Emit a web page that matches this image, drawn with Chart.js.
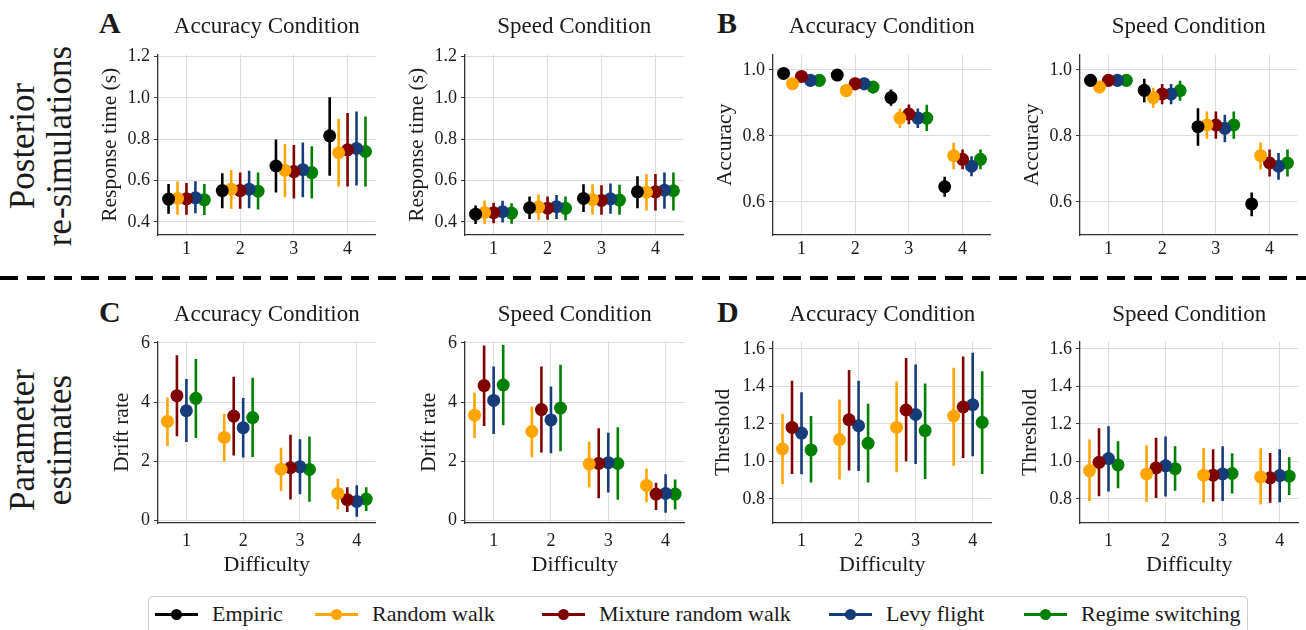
<!DOCTYPE html>
<html>
<head>
<meta charset="utf-8">
<script src="https://cdn.jsdelivr.net/npm/chart.js@4.4.0/dist/chart.umd.min.js"></script>
<style>
  body { margin: 0; width: 1306px; height: 630px; overflow: hidden; background: #fff; position: relative;
         font-family: 'Liberation Serif', serif; color: #1a1a1a; }
  canvas { position: absolute; }
  .letter { position: absolute; font-weight: bold; font-size: 30px; line-height: 30px; }
  .rowlabel { position: absolute; width: 320px; text-align: center; font-size: 35px; line-height: 37px;
              transform: translate(-50%, -50%) rotate(-90deg); }
  .dashes { position: absolute; left: 0; top: 276px; width: 1306px; height: 4px;
            background: repeating-linear-gradient(90deg, #000 0 18px, transparent 18px 27px); }
  .legend { position: absolute; left: 148px; top: 596px; width: 1100px; height: 40px;
            border: 1px solid #d0d0d0; border-radius: 4px; box-sizing: border-box; }
  .item { position: absolute; top: 0; height: 34px; display: flex; align-items: center; font-size: 22px; }
  .swatch { position: relative; width: 43px; height: 3px; margin-right: 14px; }
  .swatch span { position: absolute; left: 16px; top: -4px; width: 11px; height: 11px; border-radius: 50%; }
</style>
</head>
<body>
<div class="letter" style="left:99px;top:8px">A</div>
<div class="letter" style="left:717px;top:8px">B</div>
<div class="letter" style="left:99px;top:297px">C</div>
<div class="letter" style="left:717px;top:297px">D</div>
<div class="rowlabel" style="left:41px;top:146px">Posterior<br>re-simulations</div>
<div class="rowlabel" style="left:41px;top:440px">Parameter<br>estimates</div>
<div class="dashes"></div>
<div class="legend" id="legend"></div>
<script>
const difficulty = [1, 2, 3, 4];
const modelNames = ['Empiric', 'Random walk', 'Mixture random walk', 'Levy flight', 'Regime switching'];
const modelColors = ['#000000', '#ffa500', '#800000', '#173c7a', '#008000'];
const conditionTitles = ['Accuracy Condition', 'Speed Condition'];
const rtTicks = [0.4, 0.6, 0.8, 1.0, 1.2];
const accTicks = [0.6, 0.8, 1.0];
const driftTicks = [0, 2, 4, 6];
const thresholdTicks = [0.8, 1.0, 1.2, 1.4, 1.6];

// response time, accuracy condition (rows: empiric, random walk, mixture, levy, regime)
const rtAccMean = [[0.511, 0.552, 0.671, 0.817], [0.514, 0.559, 0.650, 0.735], [0.512, 0.552, 0.644, 0.749], [0.517, 0.559, 0.653, 0.756], [0.507, 0.549, 0.639, 0.741]];
const rtAccLow  = [[0.440, 0.467, 0.543, 0.624], [0.435, 0.464, 0.520, 0.572], [0.435, 0.464, 0.514, 0.572], [0.442, 0.467, 0.520, 0.576], [0.434, 0.461, 0.514, 0.572]];
const rtAccHigh = [[0.584, 0.636, 0.799, 1.004], [0.596, 0.652, 0.777, 0.899], [0.589, 0.640, 0.772, 0.927], [0.597, 0.648, 0.785, 0.935], [0.584, 0.639, 0.766, 0.910]];
// response time, speed condition
const rtSpdMean = [[0.438, 0.469, 0.514, 0.546], [0.446, 0.472, 0.509, 0.544], [0.445, 0.467, 0.504, 0.546], [0.450, 0.474, 0.512, 0.554], [0.443, 0.466, 0.506, 0.551]];
const rtSpdLow  = [[0.390, 0.414, 0.448, 0.467], [0.390, 0.408, 0.435, 0.455], [0.394, 0.411, 0.435, 0.456], [0.397, 0.414, 0.440, 0.464], [0.392, 0.408, 0.435, 0.456]];
const rtSpdHigh = [[0.480, 0.523, 0.583, 0.621], [0.504, 0.533, 0.583, 0.631], [0.493, 0.523, 0.578, 0.632], [0.503, 0.531, 0.586, 0.640], [0.491, 0.523, 0.580, 0.639]];
// accuracy, accuracy condition
const accAccMean = [[0.989, 0.984, 0.916, 0.646], [0.958, 0.937, 0.854, 0.740], [0.980, 0.958, 0.866, 0.729], [0.968, 0.958, 0.854, 0.708], [0.968, 0.948, 0.854, 0.729]];
const accAccLow  = [[0.983, 0.976, 0.891, 0.616], [0.939, 0.918, 0.824, 0.699], [0.971, 0.938, 0.835, 0.699], [0.949, 0.938, 0.824, 0.678], [0.949, 0.928, 0.815, 0.699]];
const accAccHigh = [[0.994, 0.992, 0.940, 0.676], [0.976, 0.956, 0.883, 0.779], [0.988, 0.976, 0.895, 0.759], [0.986, 0.976, 0.883, 0.738], [0.986, 0.966, 0.894, 0.759]];
// accuracy, speed condition
const accSpdMean = [[0.968, 0.938, 0.828, 0.594], [0.948, 0.916, 0.833, 0.740], [0.968, 0.927, 0.833, 0.718], [0.968, 0.927, 0.823, 0.708], [0.968, 0.937, 0.833, 0.718]];
const accSpdLow  = [[0.949, 0.902, 0.770, 0.557], [0.928, 0.885, 0.791, 0.698], [0.949, 0.896, 0.791, 0.677], [0.949, 0.896, 0.781, 0.667], [0.949, 0.906, 0.791, 0.677]];
const accSpdHigh = [[0.987, 0.973, 0.884, 0.629], [0.966, 0.946, 0.874, 0.780], [0.987, 0.957, 0.874, 0.759], [0.987, 0.957, 0.864, 0.748], [0.987, 0.967, 0.874, 0.759]];
// drift rate (rows: random walk, mixture, levy, regime)
const driftAccMean = [[3.35, 2.81, 1.74, 0.92], [4.22, 3.53, 1.79, 0.71], [3.71, 3.14, 1.82, 0.65], [4.13, 3.48, 1.73, 0.73]];
const driftAccLow  = [[2.52, 2.01, 1.00, 0.38], [2.85, 2.20, 0.72, 0.29], [2.66, 2.13, 0.89, 0.13], [2.79, 2.15, 0.64, 0.33]];
const driftAccHigh = [[4.16, 3.61, 2.46, 1.42], [5.58, 4.86, 2.90, 1.13], [4.78, 4.14, 2.75, 1.20], [5.46, 4.82, 2.84, 1.13]];
const driftSpdMean = [[3.56, 3.01, 1.91, 1.19], [4.56, 3.75, 1.93, 0.90], [4.06, 3.40, 1.96, 0.92], [4.58, 3.80, 1.93, 0.90]];
const driftSpdLow  = [[2.79, 2.15, 1.12, 0.62], [3.20, 2.30, 0.76, 0.36], [2.93, 2.28, 0.95, 0.27], [3.22, 2.34, 0.71, 0.38]];
const driftSpdHigh = [[4.32, 3.85, 2.67, 1.76], [5.91, 5.20, 3.12, 1.28], [5.20, 4.53, 2.97, 1.57], [5.93, 5.26, 3.15, 1.39]];
// threshold
const threshAccMean = [[1.066, 1.116, 1.181, 1.242], [1.181, 1.222, 1.274, 1.290], [1.151, 1.190, 1.250, 1.302], [1.061, 1.096, 1.164, 1.208]];
const threshAccLow  = [[0.878, 0.903, 0.942, 0.977], [0.933, 0.951, 1.000, 1.018], [0.931, 0.949, 0.986, 1.027], [0.887, 0.887, 0.906, 0.933]];
const threshAccHigh = [[1.252, 1.330, 1.426, 1.500], [1.430, 1.488, 1.552, 1.559], [1.369, 1.430, 1.517, 1.579], [1.242, 1.307, 1.415, 1.481]];
const threshSpdMean = [[0.951, 0.933, 0.926, 0.917], [0.995, 0.965, 0.926, 0.912], [1.015, 0.976, 0.933, 0.924], [0.981, 0.961, 0.935, 0.921]];
const threshSpdLow  = [[0.789, 0.784, 0.779, 0.770], [0.814, 0.804, 0.786, 0.779], [0.839, 0.812, 0.788, 0.782], [0.857, 0.843, 0.828, 0.820]];
const threshSpdHigh = [[1.116, 1.086, 1.071, 1.070], [1.176, 1.126, 1.064, 1.045], [1.187, 1.133, 1.080, 1.064], [1.107, 1.080, 1.043, 1.022]];

const FONT = "'Liberation Serif', serif";
const TEXT = '#1a1a1a';
const YW = 75;      // fixed width of the y axis box
const PAD_R = 5;
const dodge = [-1 / 3, -1 / 6, 0, 1 / 6, 1 / 3];

const rows = [
    {top: 0, height: 263, xMin: 0.47, xMax: 4.52, titlePad: {top: 13.5, bottom: 13.5}, xh: 28, tickPad: 3, xTitle: ''},
    {top: 290, height: 295, xMin: 0.5, xMax: 4.33, titlePad: {top: 11.5, bottom: 12.5}, xh: 62, tickPad: 7, xTitle: 'Difficulty'}
];

const panels = [
    {row: 0, axisX: 158, right: 377, title: conditionTitles[0], yLabel: 'Response time (s)', yMin: 0.337, yMax: 1.21, yTicks: rtTicks, digits: 1, gap: 14,
     models: [0, 1, 2, 3, 4], mean: rtAccMean, low: rtAccLow, high: rtAccHigh},
    {row: 0, axisX: 465, right: 685, title: conditionTitles[1], yLabel: 'Response time (s)', yMin: 0.337, yMax: 1.21, yTicks: rtTicks, digits: 1, gap: 14,
     models: [0, 1, 2, 3, 4], mean: rtSpdMean, low: rtSpdLow, high: rtSpdHigh},
    {row: 0, axisX: 773, right: 992, title: conditionTitles[0], yLabel: 'Accuracy', yMin: 0.50, yMax: 1.046, yTicks: accTicks, digits: 1, gap: 14,
     models: [0, 1, 2, 3, 4], mean: accAccMean, low: accAccLow, high: accAccHigh},
    {row: 0, axisX: 1080, right: 1299, title: conditionTitles[1], yLabel: 'Accuracy', yMin: 0.50, yMax: 1.046, yTicks: accTicks, digits: 1, gap: 14,
     models: [0, 1, 2, 3, 4], mean: accSpdMean, low: accSpdLow, high: accSpdHigh},
    {row: 1, axisX: 158, right: 377, title: conditionTitles[0], yLabel: 'Drift rate', yMin: -0.077, yMax: 6.044, yTicks: driftTicks, digits: 0, gap: 26,
     models: [1, 2, 3, 4], mean: driftAccMean, low: driftAccLow, high: driftAccHigh},
    {row: 1, axisX: 465, right: 686, title: conditionTitles[1], yLabel: 'Drift rate', yMin: -0.077, yMax: 6.044, yTicks: driftTicks, digits: 0, gap: 26,
     models: [1, 2, 3, 4], mean: driftSpdMean, low: driftSpdLow, high: driftSpdHigh},
    {row: 1, axisX: 773, right: 993, title: conditionTitles[0], yLabel: 'Threshold', yMin: 0.671, yMax: 1.639, yTicks: thresholdTicks, digits: 1, gap: 12,
     models: [1, 2, 3, 4], mean: threshAccMean, low: threshAccLow, high: threshAccHigh},
    {row: 1, axisX: 1080, right: 1300, title: conditionTitles[1], yLabel: 'Threshold', yMin: 0.671, yMax: 1.639, yTicks: thresholdTicks, digits: 1, gap: 12,
     models: [1, 2, 3, 4], mean: threshSpdMean, low: threshSpdLow, high: threshSpdHigh}
];

function makePanel(p) {
    const row = rows[p.row];
    const left = p.axisX - YW;
    const canvas = document.createElement('canvas');
    canvas.width = p.right - left + PAD_R;
    canvas.height = row.height;
    canvas.style.left = left + 'px';
    canvas.style.top = row.top + 'px';
    document.body.appendChild(canvas);

    const datasets = [];
    p.models.forEach((m, k) => {
        const off = dodge[k];
        const bars = [];
        difficulty.forEach((d, i) => {
            bars.push({x: d + off, y: p.low[k][i]}, {x: d + off, y: p.high[k][i]}, {x: d + off, y: null});
        });
        datasets.push({
            type: 'line', data: bars, borderColor: modelColors[m], borderWidth: 2.6,
            pointRadius: 0, showLine: true, spanGaps: false, borderCapStyle: 'butt'
        });
        datasets.push({
            type: 'scatter', data: difficulty.map((d, i) => ({x: d + off, y: p.mean[k][i]})),
            backgroundColor: modelColors[m], borderWidth: 0, pointRadius: 6.5
        });
    });

    return new Chart(canvas, {
        type: 'scatter',
        data: {datasets: datasets},
        options: {
            responsive: false,
            animation: false,
            events: [],
            layout: {padding: {left: 0, right: PAD_R, top: 0, bottom: 0}},
            scales: {
                x: {
                    type: 'linear', min: row.xMin, max: row.xMax,
                    afterBuildTicks: s => { s.ticks = difficulty.map(v => ({value: v})); },
                    afterFit: s => { s.height = row.xh; },
                    grid: {color: '#dcdcdc', drawTicks: false},
                    border: {color: '#333', width: 1.3},
                    ticks: {font: {family: FONT, size: 18}, color: TEXT, padding: row.tickPad, autoSkip: false, maxRotation: 0},
                    title: {display: row.xTitle !== '', text: row.xTitle, font: {family: FONT, size: 22}, color: TEXT,
                            padding: {top: 0, bottom: 6.5}}
                },
                y: {
                    type: 'linear', min: p.yMin, max: p.yMax,
                    afterBuildTicks: s => { s.ticks = p.yTicks.map(v => ({value: v})); },
                    afterFit: s => { s.width = YW; },
                    grid: {color: '#dcdcdc', tickColor: '#333', tickLength: 4},
                    border: {color: '#333', width: 1.3},
                    ticks: {font: {family: FONT, size: 18}, color: TEXT, padding: 4, autoSkip: false,
                            callback: v => v.toFixed(p.digits)},
                    title: {display: true, text: p.yLabel, font: {family: FONT, size: 21.5}, color: TEXT,
                            padding: {top: p.gap, bottom: 0}}
                }
            },
            plugins: {
                legend: {display: false},
                tooltip: {enabled: false},
                title: {display: true, text: p.title, fullSize: false, color: TEXT,
                        font: {family: FONT, size: 23, weight: 'normal'}, padding: row.titlePad}
            }
        }
    });
}

panels.forEach(makePanel);

// legend
const legendLefts = [6, 166, 393, 680, 875];
const legend = document.getElementById('legend');
modelNames.forEach((name, i) => {
    const item = document.createElement('div');
    item.className = 'item';
    item.style.left = legendLefts[i] + 'px';
    item.innerHTML = `<div class="swatch" style="background:${modelColors[i]}"><span style="background:${modelColors[i]}"></span></div>${name}`;
    legend.appendChild(item);
});
</script>
</body>
</html>
